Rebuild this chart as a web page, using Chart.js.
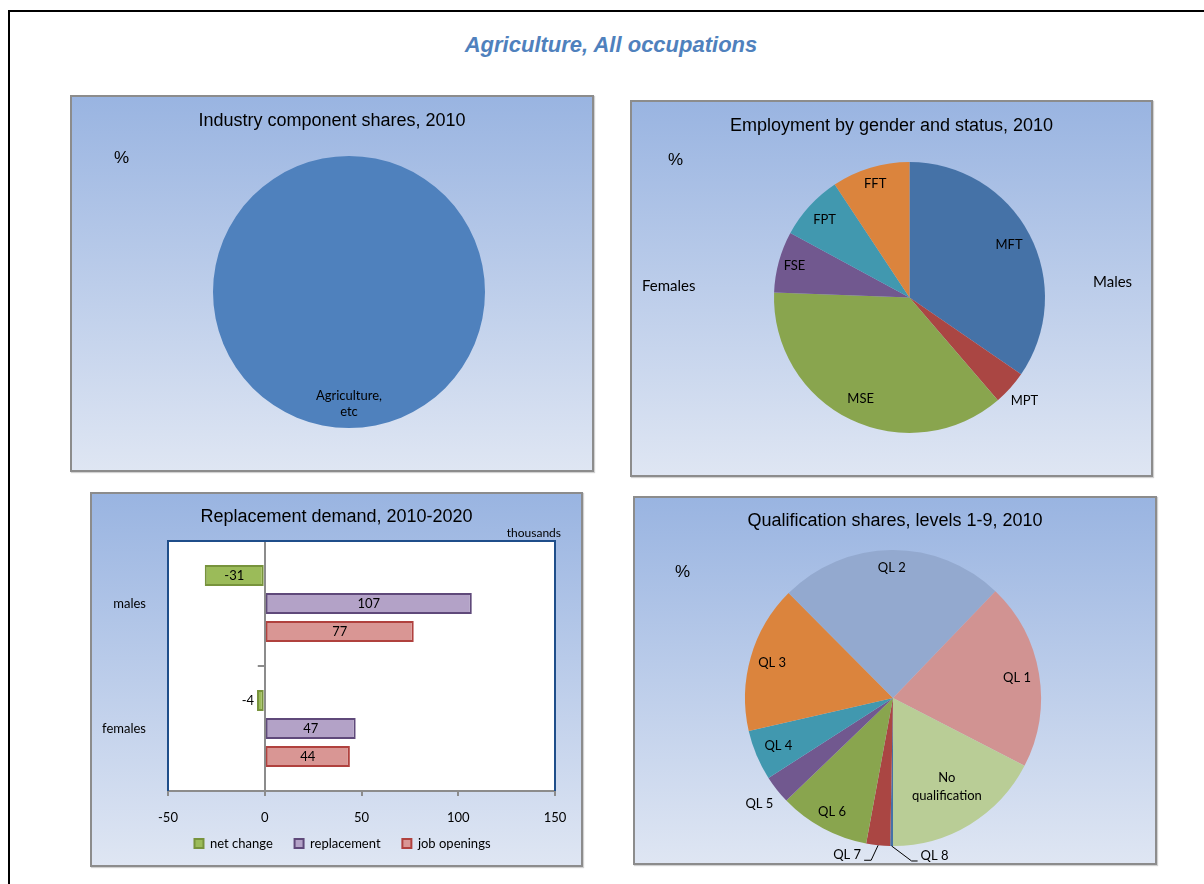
<!DOCTYPE html>
<html><head><meta charset="utf-8">
<script src="https://cdn.jsdelivr.net/npm/chart.js@4.4.1/dist/chart.umd.min.js"></script>
<style>
html,body{margin:0;padding:0;background:#fff;}
body{width:1204px;height:884px;position:relative;overflow:hidden;font-family:Lato,'Liberation Sans',sans-serif;}
.frame{position:absolute;left:8px;top:10px;width:1400px;height:1000px;border-top:2px solid #000;border-left:2px solid #000;}
.panel{position:absolute;background:linear-gradient(#99b4e1,#dfe6f3);box-shadow:inset 0 0 0 2px #8c8c8c,1px 1px 1px rgba(0,0,0,0.18);}
.panel canvas{position:absolute;left:0;top:0;}
.t{position:absolute;white-space:nowrap;color:#000;}
.ptitle{left:0;width:100%;text-align:center;font-family:'Liberation Sans',Arial,sans-serif;font-size:18px;line-height:20px;}
.pct{font-family:'Liberation Sans',Arial,sans-serif;font-size:17px;line-height:20px;}
.lab{font-family:Lato,sans-serif;font-size:15px;line-height:18px;}
#main{left:9px;width:1204px;top:32px;text-align:center;font-family:'Liberation Sans',Arial,sans-serif;font-weight:bold;font-style:italic;font-size:22px;line-height:26px;color:#4f81bd;}
</style></head>
<body>
<div class="frame"></div>
<div class="t" id="main">Agriculture, All occupations</div>

<div class="panel" style="left:70px;top:95px;width:524px;height:377px;">
  <canvas id="c1" width="524" height="377"></canvas>
  <div class="t ptitle" style="top:15px;">Industry component shares, 2010</div>
  <div class="t pct" style="left:44px;top:53px;">%</div>
</div>

<div class="panel" style="left:630px;top:100px;width:523px;height:377px;">
  <canvas id="c2" width="523" height="377"></canvas>
  <div class="t ptitle" style="top:15px;">Employment by gender and status, 2010</div>
  <div class="t pct" style="left:38px;top:50px;">%</div>
  <div class="t lab" style="left:12px;top:176px;">Females</div>
  <div class="t lab" style="left:463px;top:172px;">Males</div>
</div>

<div class="panel" style="left:90px;top:492px;width:493px;height:375px;">
  <canvas id="c3" width="493" height="375"></canvas>
  <div class="t ptitle" style="top:14px;">Replacement demand, 2010-2020</div>
  <div class="t" style="right:22px;top:33px;font-family:Lato,sans-serif;font-size:12px;line-height:16px;">thousands</div>
</div>

<div class="panel" style="left:633px;top:496px;width:524px;height:369px;">
  <canvas id="c4" width="524" height="369"></canvas>
  <div class="t ptitle" style="top:14px;">Qualification shares, levels 1-9, 2010</div>
  <div class="t pct" style="left:42px;top:66px;">%</div>
</div>

<script>
// ---------- data ----------
const industryLabels = [["Agriculture,", "etc"]];
const industryShares = [100];

const employmentLabels = ["MFT", "MPT", "MSE", "FSE", "FPT", "FFT"];
const employmentShares = [34.6, 4.1, 36.9, 7.3, 7.8, 9.3];

const replacementCategories = ["males", "females"];
const netChange = [-31, -4];
const replacementValues = [107, 47];
const jobOpenings = [77, 44];
const replacementTicks = [-50, 0, 50, 100, 150];

const qualificationLabels = ["QL 8", "QL 7", "QL 6", "QL 5", "QL 4", "QL 3", "QL 2", "QL 1", ["No", "qualification"]];
const qualificationShares = [0.3, 2.6, 9.9, 3.1, 5.5, 16.1, 24.6, 20.4, 17.4];

// ---------- styles ----------
const labelFont = "13px Lato, sans-serif";

const sliceLabels = {
  id: 'sliceLabels',
  afterDatasetsDraw(chart, args, opts) {
    const ctx = chart.ctx;
    const meta = chart.getDatasetMeta(0);
    ctx.save();
    ctx.font = opts.font || labelFont;
    ctx.fillStyle = '#000';
    ctx.strokeStyle = '#000';
    ctx.lineWidth = 1;
    ctx.textBaseline = 'middle';
    const lh = opts.lineHeight || 16;
    meta.data.forEach((arc, i) => {
      const p = arc.getProps(['x', 'y', 'startAngle', 'endAngle', 'outerRadius'], true);
      const mid = (p.startAngle + p.endAngle) / 2;
      const lbl = chart.data.labels[i];
      const lines = Array.isArray(lbl) ? lbl : [lbl];
      const place = (opts.place && opts.place[i]) || {};
      let px, py;
      ctx.textAlign = 'center';
      if (place.leader) {
        const ax = p.x + Math.cos(mid) * p.outerRadius, ay = p.y + Math.sin(mid) * p.outerRadius;
        const L = place.leader;
        ctx.beginPath();
        ctx.moveTo(ax, ay);
        ctx.lineTo(ax + L[0], ay + L[1]);
        ctx.lineTo(ax + L[2], ay + L[3]);
        ctx.stroke();
        px = ax + place.text[0]; py = ay + place.text[1];
        ctx.textAlign = place.align;
      } else {
        const f = place.r != null ? place.r : (opts.r || 0.8);
        px = p.x + Math.cos(mid) * p.outerRadius * f;
        py = p.y + Math.sin(mid) * p.outerRadius * f;
      }
      lines.forEach((ln, k) => ctx.fillText(ln, px, py + (k - (lines.length - 1) / 2) * lh));
    });
    ctx.restore();
  }
};

function pieChart(id, labels, values, colors, padding, labelOpts, rotation) {
  return new Chart(document.getElementById(id), {
    type: 'pie',
    data: { labels: labels, datasets: [{ data: values, backgroundColor: colors, borderWidth: 0 }] },
    options: {
      responsive: false, animation: false, rotation: rotation || 0,
      layout: { padding: padding },
      plugins: { legend: { display: false }, tooltip: { enabled: false }, title: { display: false }, sliceLabels: labelOpts }
    },
    plugins: [sliceLabels]
  });
}

pieChart('c1', industryLabels, industryShares, ['#4f81bd'],
  { left: 143, right: 109, top: 61, bottom: 44 },
  { r: 0.82, lineHeight: 16 });

pieChart('c2', employmentLabels, employmentShares,
  ['#4572a7', '#aa4643', '#89a54e', '#71588f', '#4198af', '#db843d'],
  { left: 144, right: 108, top: 62, bottom: 44 },
  { place: [{ r: 0.83 }, { r: 1.14 }, { r: 0.83 }, { r: 0.88 }, { r: 0.85 }, { r: 0.88 }] });

pieChart('c4', qualificationLabels, qualificationShares,
  ['#4572a7', '#aa4643', '#89a54e', '#71588f', '#4198af', '#db843d', '#93a9cf', '#d19392', '#b9cd96'],
  { left: 112, right: 116, top: 54, bottom: 19 },
  { lineHeight: 18, place: [
    { leader: [20, 15, 26, 15], text: [29, 10], align: 'left' },
    { leader: [-7, 15, -14, 15], text: [-17, 10], align: 'right' },
    { r: 0.87 }, { r: 1.15 }, { r: 0.84 }, { r: 0.85 }, { r: 0.88 }, { r: 0.85 }, { r: 0.70 }
  ] }, 180);

// ---------- bar chart ----------
const plotFrame = {
  id: 'plotFrame',
  beforeDraw(chart) {
    const { ctx, chartArea: a } = chart;
    ctx.save();
    ctx.fillStyle = '#fff';
    ctx.fillRect(a.left, a.top, a.right - a.left, a.bottom - a.top);
    ctx.restore();
  },
  afterDatasetsDraw(chart) {
    const { ctx, chartArea: a, scales } = chart;
    ctx.save();
    ctx.strokeStyle = '#1f4e8a';
    ctx.lineWidth = 2;
    ctx.beginPath();
    ctx.moveTo(a.left, a.bottom);
    ctx.lineTo(a.left, a.top);
    ctx.lineTo(a.right, a.top);
    ctx.lineTo(a.right, a.bottom);
    ctx.stroke();
    // category boundary tick on the zero axis
    const x0 = scales.x.getPixelForValue(0);
    const yb = (scales.y.getPixelForValue(0) + scales.y.getPixelForValue(1)) / 2;
    ctx.strokeStyle = '#8c8c8c';
    ctx.beginPath();
    ctx.moveTo(x0 - 7, yb); ctx.lineTo(x0, yb);
    ctx.stroke();
    // value labels
    ctx.font = labelFont;
    ctx.fillStyle = '#000';
    ctx.textBaseline = 'middle';
    chart.data.datasets.forEach((ds, di) => {
      chart.getDatasetMeta(di).data.forEach((bar, i) => {
        const p = bar.getProps(['x', 'y', 'base'], true);
        const txt = String(ds.data[i]);
        const w = ctx.measureText(txt).width;
        if (Math.abs(p.x - p.base) > w + 6) {
          ctx.textAlign = 'center';
          ctx.fillText(txt, (p.x + p.base) / 2, p.y);
        } else {
          ctx.textAlign = 'right';
          ctx.fillText(txt, Math.min(p.x, p.base) - 3, p.y);
        }
      });
    });
    ctx.restore();
  }
};

const barCommon = { borderWidth: 2, borderSkipped: false, categoryPercentage: 0.672, barPercentage: 0.75 };
new Chart(document.getElementById('c3'), {
  type: 'bar',
  data: {
    labels: replacementCategories,
    datasets: [
      Object.assign({ label: 'net change', data: netChange, backgroundColor: '#9bbb59', borderColor: '#77933c' }, barCommon),
      Object.assign({ label: 'replacement', data: replacementValues, backgroundColor: '#b3a2c7', borderColor: '#5f497a' }, barCommon),
      Object.assign({ label: 'job openings', data: jobOpenings, backgroundColor: '#d99694', borderColor: '#b0413e' }, barCommon)
    ]
  },
  options: {
    indexAxis: 'y', responsive: false, animation: false,
    layout: { padding: { left: 12, top: 49, right: 0, bottom: 7 } },
    scales: {
      x: {
        min: -50, max: 150,
        afterBuildTicks: s => { s.ticks = replacementTicks.map(v => ({ value: v })); },
        afterFit: s => { s.height = 34; },
        ticks: { font: { family: 'Lato', size: 13 }, color: '#000', padding: 14, maxRotation: 0 },
        grid: { color: c => (c.tick && c.tick.value === 0) ? '#8c8c8c' : 'rgba(0,0,0,0)', lineWidth: 2, tickColor: '#8c8c8c', tickLength: 5 },
        border: { display: true, color: '#8c8c8c', width: 2 }
      },
      y: {
        afterFit: s => { s.width = 66; },
        ticks: { font: { family: 'Lato', size: 13 }, color: '#000', padding: 14 },
        grid: { display: false },
        border: { display: false }
      },
      yRight: {
        type: 'category', position: 'right', display: true,
        afterFit: s => { s.width = 28; },
        ticks: { display: false },
        grid: { display: false },
        border: { display: false }
      }
    },
    plugins: {
      legend: {
        position: 'bottom',
        labels: {
          boxWidth: 9, boxHeight: 9, padding: 12, color: '#000', font: { family: 'Lato', size: 13 },
          generateLabels: chart => {
            const items = Chart.defaults.plugins.legend.labels.generateLabels(chart);
            items.forEach((it, i) => { if (i < items.length - 1) it.text = it.text + '\u2002 '; });
            return items;
          }
        }
      },
      tooltip: { enabled: false }
    }
  },
  plugins: [plotFrame]
});
</script>
</body></html>
